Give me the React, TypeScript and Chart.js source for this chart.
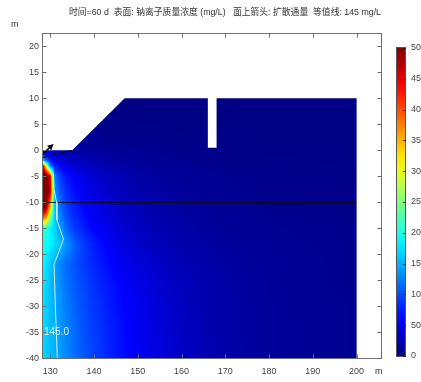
import React, { useEffect, useRef } from "react";
import { Chart, registerables } from "chart.js";
Chart.register(...registerables);

// ---------- text ----------
const titleText = "时间=60 d  表面: 钠离子质量浓度 (mg/L)   面上箭头: 扩散通量  等值线: 145 mg/L";
const unitLabel = "m";
const contourLabel = "145.0";

// ---------- axes ----------
const xMin = 128.1;
const xMax = 205.8;
const yMin = -40.15;
const yMax = 22.55;
const xTicks = [130, 140, 150, 160, 170, 180, 190, 200];
const yTicks = [-40, -35, -30, -25, -20, -15, -10, -5, 0, 5, 10, 15, 20];
const cbarMin = 0;
const cbarMax = 500;
const cbarTicks = [0, 50, 100, 150, 200, 250, 300, 350, 400, 450, 500];

// ---------- geometry (m) ----------
const domainX = [128.2, 128.2, 135, 147, 166, 166, 168, 168, 200, 200];
const domainY = [-40, 0, 0, 10, 10, 0.5, 0.5, 10, 10, -40];
const layerLineX = [128.2, 200];
const layerLineY = [-10, -10];
const edgeLineX = [128.2, 134.9];
const edgeLineY = [-1.44, 0];
const arrowX = [128.17, 130.75];
const arrowY = [-0.79, 1.2];

// ---------- concentration field (mg/L) read at grid nodes ----------
const gridX = [128.2, 129, 130, 131, 132, 133, 134, 136, 138, 140, 143, 146, 150, 155, 160, 167, 175, 185, 200];
const gridY = [10, 5, 2, 0, -1, -2, -3, -5, -8, -11, -13, -15, -18, -22, -26, -30, -35, -40];
const cY10 = [2, 2, 2, 2, 2, 2, 2, 2, 2, 2, 2, 2, 2, 2, 2, 2, 2, 2, 2];
const cY5 = [10, 10, 10, 10, 10, 9, 9, 8, 7, 6, 5, 5, 4, 4, 3, 3, 3, 2, 2];
const cY2 = [30, 27, 24, 21, 19, 17, 16, 13, 11, 10, 8, 7, 6, 5, 5, 4, 3, 3, 2];
const cY0 = [60, 50, 40, 34, 29, 26, 23, 19, 16, 14, 12, 10, 9, 7, 6, 5, 4, 3, 3];
const cYm1 = [95, 72, 55, 44, 38, 33, 29, 24, 21, 18, 15, 13, 11, 9, 7, 5, 4, 4, 3];
const cYm2 = [170, 120, 78, 58, 48, 42, 37, 31, 27, 23, 19, 16, 13, 10, 8, 6, 5, 4, 3];
const cYm3 = [480, 320, 120, 78, 62, 55, 48, 40, 34, 29, 23, 19, 15, 12, 10, 7, 6, 5, 4];
const cYm5 = [530, 520, 450, 125, 95, 80, 70, 57, 47, 40, 32, 26, 20, 15, 12, 9, 7, 5, 4];
const cYm8 = [530, 525, 470, 140, 110, 93, 80, 65, 54, 46, 37, 30, 23, 18, 14, 10, 8, 6, 5];
const cYm11 = [510, 490, 340, 160, 125, 105, 90, 74, 62, 53, 43, 35, 27, 21, 17, 12, 9, 7, 5];
const cYm13 = [400, 360, 250, 160, 132, 112, 97, 80, 67, 57, 46, 37, 29, 22, 18, 13, 10, 7, 5];
const cYm15 = [215, 205, 185, 165, 147, 125, 108, 88, 74, 63, 51, 41, 32, 25, 20, 14, 10, 8, 6];
const cYm18 = [200, 195, 185, 172, 158, 145, 130, 105, 88, 75, 60, 48, 37, 28, 22, 16, 12, 9, 7];
const cYm22 = [185, 175, 158, 143, 130, 120, 112, 100, 90, 80, 68, 57, 46, 35, 27, 19, 14, 10, 7];
const cYm26 = [180, 170, 155, 144, 134, 125, 117, 105, 95, 86, 74, 63, 51, 39, 30, 21, 15, 10, 7];
const cYm30 = [175, 167, 155, 146, 137, 129, 121, 108, 98, 89, 77, 66, 54, 42, 32, 22, 16, 11, 8];
const cYm35 = [172, 165, 155, 148, 140, 132, 125, 112, 101, 92, 80, 69, 56, 44, 34, 23, 16, 11, 8];
const cYm40 = [170, 164, 155, 149, 142, 134, 127, 114, 103, 94, 82, 70, 57, 45, 35, 24, 17, 11, 8];
const fieldRows = [cY10, cY5, cY2, cY0, cYm1, cYm2, cYm3, cYm5, cYm8, cYm11, cYm13, cYm15, cYm18, cYm22, cYm26, cYm30, cYm35, cYm40];

// ---------- 145 mg/L contour ----------
const contourX = [128.26, 129.2, 130.2, 130.7, 130.85, 131.4, 131.5, 133.0, 130.85, 131.1, 131.6];
const contourY = [-2.0, -3.0, -4.1, -4.6, -7.6, -9.9, -13.4, -17.1, -22.0, -28.7, -40];
const contourLabelX = 128.55;
const contourLabelY = -35.1;

const FONT = '"Liberation Sans", "Noto Sans CJK SC", sans-serif';

function clamp(v: number, a: number, b: number) {
  return v < a ? a : v > b ? b : v;
}
function jet(t: number): [number, number, number] {
  t = clamp(t, 0, 1);
  const r = clamp(Math.min(4 * t - 1.5, -4 * t + 4.5), 0, 1);
  const g = clamp(Math.min(4 * t - 0.5, -4 * t + 3.5), 0, 1);
  const b = clamp(Math.min(4 * t + 0.5, -4 * t + 2.5), 0, 1);
  return [Math.round(r * 255), Math.round(g * 255), Math.round(b * 255)];
}
function locateAsc(arr: number[], v: number) {
  let k = 0;
  while (k < arr.length - 2 && v > arr[k + 1]) k++;
  const t = clamp((v - arr[k]) / (arr[k + 1] - arr[k]), 0, 1);
  return [k, t];
}
function locateDesc(arr: number[], v: number) {
  let k = 0;
  while (k < arr.length - 2 && v < arr[k + 1]) k++;
  const t = clamp((arr[k] - v) / (arr[k] - arr[k + 1]), 0, 1);
  return [k, t];
}

const fieldPlugin = {
  id: "field",
  beforeDatasetsDraw(chart: any) {
    const { ctx, chartArea: ca, scales } = chart;
    const xs = scales.x, ys = scales.y;
    const L = Math.floor(ca.left), T = Math.floor(ca.top);
    const W = Math.ceil(ca.right) - L, H = Math.ceil(ca.bottom) - T;
    const off = document.createElement("canvas");
    off.width = W;
    off.height = H;
    const o = off.getContext("2d")!;
    const img = o.createImageData(W, H);
    const xInfo: number[][] = [];
    for (let i = 0; i < W; i++) xInfo.push(locateAsc(gridX, xs.getValueForPixel(L + i + 0.5)));
    for (let j = 0; j < H; j++) {
      const [ky, ty] = locateDesc(gridY, ys.getValueForPixel(T + j + 0.5));
      const r0 = fieldRows[ky], r1 = fieldRows[ky + 1];
      for (let i = 0; i < W; i++) {
        const [kx, tx] = xInfo[i];
        const a = r0[kx] + (r0[kx + 1] - r0[kx]) * tx;
        const b = r1[kx] + (r1[kx + 1] - r1[kx]) * tx;
        const v = a + (b - a) * ty;
        const [R, G, B] = jet((v - cbarMin) / (cbarMax - cbarMin));
        const p = (j * W + i) * 4;
        img.data[p] = R;
        img.data[p + 1] = G;
        img.data[p + 2] = B;
        img.data[p + 3] = 255;
      }
    }
    o.putImageData(img, 0, 0);
    ctx.save();
    ctx.beginPath();
    domainX.forEach((x, k) => {
      const px = xs.getPixelForValue(x), py = ys.getPixelForValue(domainY[k]);
      if (k) ctx.lineTo(px, py);
      else ctx.moveTo(px, py);
    });
    ctx.closePath();
    ctx.clip();
    ctx.drawImage(off, L, T);
    ctx.restore();

    // geometry lines
    ctx.save();
    ctx.strokeStyle = "rgba(0,0,0,0.85)";
    ctx.lineWidth = 1;
    ctx.beginPath();
    ctx.moveTo(xs.getPixelForValue(layerLineX[0]), Math.round(ys.getPixelForValue(layerLineY[0])) + 0.5);
    ctx.lineTo(xs.getPixelForValue(layerLineX[1]), Math.round(ys.getPixelForValue(layerLineY[1])) + 0.5);
    ctx.stroke();
    ctx.beginPath();
    ctx.moveTo(xs.getPixelForValue(edgeLineX[0]), ys.getPixelForValue(edgeLineY[0]));
    ctx.lineTo(xs.getPixelForValue(edgeLineX[1]), ys.getPixelForValue(edgeLineY[1]));
    ctx.stroke();
    // flux arrow
    const ax0 = xs.getPixelForValue(arrowX[0]), ay0 = ys.getPixelForValue(arrowY[0]);
    const ax1 = xs.getPixelForValue(arrowX[1]), ay1 = ys.getPixelForValue(arrowY[1]);
    const ang = Math.atan2(ay1 - ay0, ax1 - ax0);
    ctx.strokeStyle = "#000";
    ctx.fillStyle = "#000";
    ctx.lineWidth = 1.6;
    ctx.beginPath();
    ctx.moveTo(ax0, ay0);
    ctx.lineTo(ax1 - 3 * Math.cos(ang), ay1 - 3 * Math.sin(ang));
    ctx.stroke();
    ctx.beginPath();
    ctx.moveTo(ax1, ay1);
    ctx.lineTo(ax1 - 6 * Math.cos(ang) + 3 * Math.sin(ang), ay1 - 6 * Math.sin(ang) - 3 * Math.cos(ang));
    ctx.lineTo(ax1 - 6 * Math.cos(ang) - 3 * Math.sin(ang), ay1 - 6 * Math.sin(ang) + 3 * Math.cos(ang));
    ctx.closePath();
    ctx.fill();
    ctx.restore();
  },
  afterDatasetsDraw(chart: any) {
    const { ctx, scales } = chart;
    ctx.save();
    ctx.font = "10px " + FONT;
    ctx.fillStyle = "#d8f4ff";
    ctx.textAlign = "left";
    ctx.textBaseline = "middle";
    ctx.fillText(contourLabel, scales.x.getPixelForValue(contourLabelX), scales.y.getPixelForValue(contourLabelY));
    ctx.restore();
  },
  afterDraw(chart: any) {
    const { ctx, chartArea: ca, scales } = chart;
    const xs = scales.x, ys = scales.y;
    ctx.save();
    // frame
    const l = Math.round(ca.left) + 0.5, r = Math.round(ca.right) - 0.5;
    const t = Math.round(ca.top) + 0.5, b = Math.round(ca.bottom) - 0.5;
    ctx.strokeStyle = "#707070";
    ctx.lineWidth = 1;
    ctx.strokeRect(l, t, r - l, b - t);
    ctx.beginPath();
    xTicks.forEach((v) => {
      const px = Math.round(xs.getPixelForValue(v)) + 0.5;
      ctx.moveTo(px, b);
      ctx.lineTo(px, b - 4);
      ctx.moveTo(px, t);
      ctx.lineTo(px, t + 4);
    });
    yTicks.forEach((v) => {
      const py = Math.round(ys.getPixelForValue(v)) + 0.5;
      ctx.moveTo(l, py);
      ctx.lineTo(l + 4, py);
      ctx.moveTo(r, py);
      ctx.lineTo(r - 4, py);
    });
    ctx.stroke();

    // title & units
    ctx.fillStyle = "#333";
    ctx.font = "9px " + FONT;
    ctx.textBaseline = "middle";
    ctx.textAlign = "left";
    ctx.fillText(titleText, 69, 13, 312);
    ctx.fillText(unitLabel, 11, 25);
    ctx.fillText(unitLabel, 375, 372);

    // colorbar
    const cbL = 396, cbR = 406, cbT = 48, cbB = 356;
    const grad = ctx.createLinearGradient(0, cbB, 0, cbT);
    for (let s = 0; s <= 20; s++) {
      const [R, G, B] = jet(s / 20);
      grad.addColorStop(s / 20, `rgb(${R},${G},${B})`);
    }
    ctx.fillStyle = grad;
    ctx.fillRect(cbL, cbT, cbR - cbL, cbB - cbT);
    ctx.strokeStyle = "#555";
    ctx.strokeRect(cbL + 0.5, cbT - 0.5, cbR - cbL - 1, cbB - cbT + 1);
    ctx.fillStyle = "#444";
    ctx.beginPath();
    cbarTicks.forEach((v) => {
      const py = cbB - ((v - cbarMin) / (cbarMax - cbarMin)) * (cbB - cbT);
      ctx.moveTo(cbR - 3, Math.round(py) + 0.5);
      ctx.lineTo(cbR, Math.round(py) + 0.5);
      ctx.fillText(String(v), 411, py);
    });
    ctx.strokeStyle = "#222";
    ctx.stroke();
    ctx.restore();
  },
};

export default function App() {
  const ref = useRef<HTMLCanvasElement | null>(null);
  useEffect(() => {
    if (!ref.current) return;
    const chart = new Chart(ref.current, {
      type: "scatter",
      data: {
        datasets: [
          {
            label: "145 mg/L",
            data: contourX.map((x, i) => ({ x, y: contourY[i] })),
            showLine: true,
            borderColor: "#c8eeff",
            borderWidth: 1,
            pointRadius: 0,
            tension: 0,
          },
        ],
      },
      options: {
        animation: false,
        responsive: false,
        maintainAspectRatio: false,
        events: [],
        layout: { padding: { top: 33, right: 39, left: 0, bottom: 0 } },
        plugins: { legend: { display: false }, tooltip: { enabled: false }, title: { display: false } },
        scales: {
          x: {
            type: "linear",
            min: xMin,
            max: xMax,
            afterBuildTicks: (s: any) => {
              s.ticks = xTicks.map((v) => ({ value: v }));
            },
            afterFit: (s: any) => {
              s.height = 23;
            },
            grid: { display: false, drawTicks: false },
            border: { display: false },
            ticks: { font: { size: 9, family: FONT }, color: "#444", padding: 7, maxRotation: 0, autoSkip: false },
          },
          y: {
            type: "linear",
            min: yMin,
            max: yMax,
            afterBuildTicks: (s: any) => {
              s.ticks = yTicks.map((v) => ({ value: v }));
            },
            afterFit: (s: any) => {
              s.width = 42;
            },
            grid: { display: false, drawTicks: false },
            border: { display: false },
            ticks: { font: { size: 9, family: FONT }, color: "#444", padding: 3, autoSkip: false },
          },
        },
      },
      plugins: [fieldPlugin],
    });
    return () => chart.destroy();
  }, []);
  return (
    <div style={{ position: "fixed", left: 0, top: 0, width: 421, height: 382, background: "#fff" }}>
      <canvas ref={ref} width={421} height={382} style={{ display: "block" }} />
    </div>
  );
}
